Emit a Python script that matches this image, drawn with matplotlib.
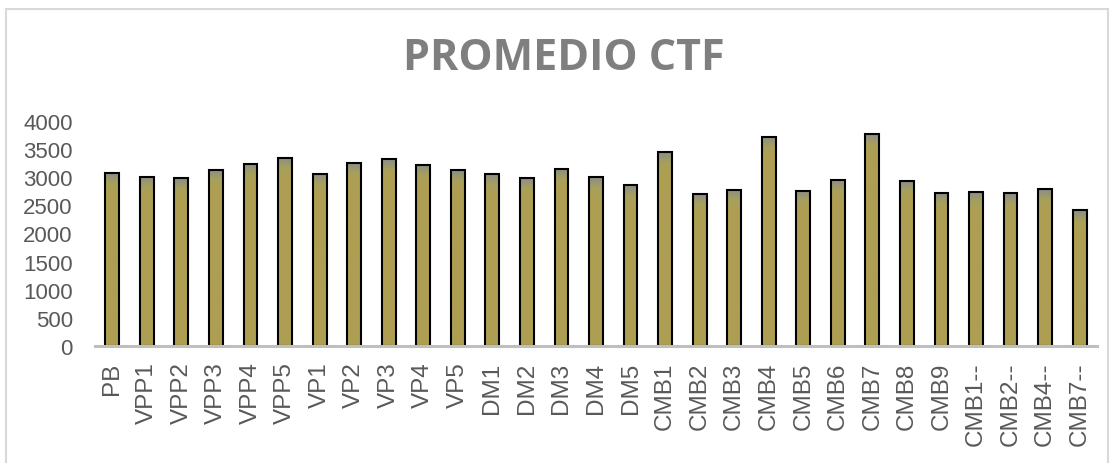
import matplotlib
matplotlib.use('Agg')
import matplotlib.pyplot as plt
import numpy as np
from matplotlib.colors import LinearSegmentedColormap
from matplotlib.patches import Rectangle

categories = ['PB', 'VPP1', 'VPP2', 'VPP3', 'VPP4', 'VPP5',
              'VP1', 'VP2', 'VP3', 'VP4', 'VP5',
              'DM1', 'DM2', 'DM3', 'DM4', 'DM5',
              'CMB1', 'CMB2', 'CMB3', 'CMB4', 'CMB5', 'CMB6', 'CMB7', 'CMB8', 'CMB9',
              'CMB1--', 'CMB2--', 'CMB4--', 'CMB7--']
values = [3080, 3005, 2980, 3130, 3235, 3340,
          3055, 3255, 3315, 3222, 3120,
          3052, 2988, 3148, 2998,
          2850,
          3440, 2700, 2772, 3718, 2755, 2950, 3765, 2938, 2720,
          2738, 2714, 2785, 2412]
y_ticks = [0, 500, 1000, 1500, 2000, 2500, 3000, 3500, 4000]

title = 'PROMEDIO CTF'
text_gray = '#595959'

fig = plt.figure(figsize=(11.14, 4.64), dpi=100)
ax = fig.add_axes([0.0853, 0.2522, 0.8994, 0.4855])

# bars with a gray -> olive gradient at the top
cmap = LinearSegmentedColormap.from_list('bar', ['#8a8f88', '#a9a05a', '#ae9e52', '#ae9e52'])
bars = ax.bar(range(len(categories)), values, width=0.4, color='none',
              edgecolor='black', linewidth=1.5, zorder=3)
for b, v in zip(bars, values):
    x0 = b.get_x()
    w = b.get_width()
    # gradient spans about 600 units from top down
    frac = min(1.0, 600.0 / v)
    grad = np.concatenate([np.linspace(0, 1, 60), np.ones(int(60 / frac) - 60 + 1)])
    grad = grad.reshape(-1, 1)
    im = ax.imshow(grad, cmap=cmap, vmin=0, vmax=1, aspect='auto',
                   extent=[x0, x0 + w, 0, v], origin='upper', zorder=2)
    im.set_clip_path(b)

ax.set_xlim(-0.5, len(categories) - 0.5)
ax.set_ylim(0, 4000)
ax.set_yticks(y_ticks)
ax.set_xticks(range(len(categories)))
ax.set_xticklabels(categories, rotation=90, fontsize=17.5, color=text_gray,
                   family='Liberation Sans')
ax.set_yticklabels([str(t) for t in y_ticks], fontsize=16, color=text_gray,
                   family='Liberation Sans')
ax.tick_params(axis='both', length=0)
ax.tick_params(axis='x', pad=11)
ax.tick_params(axis='y', pad=16)

for s in ['top', 'right', 'left']:
    ax.spines[s].set_visible(False)
ax.spines['bottom'].set_color('#bfbfbf')
ax.spines['bottom'].set_linewidth(2.2)
ax.spines['bottom'].set_zorder(4)

fig.text(0.506, 0.873, title, ha='center', va='center', fontsize=31,
         fontweight='bold', color='#7f7f7f', family='Open Sans')

# chart border
fig.patches.append(Rectangle((6 / 1114, -0.1), 1102 / 1114, 1.1 - 10 / 464,
                             transform=fig.transFigure, fill=False,
                             edgecolor='#d9d9d9', linewidth=1.5))

fig.savefig('out.png', dpi=100)
